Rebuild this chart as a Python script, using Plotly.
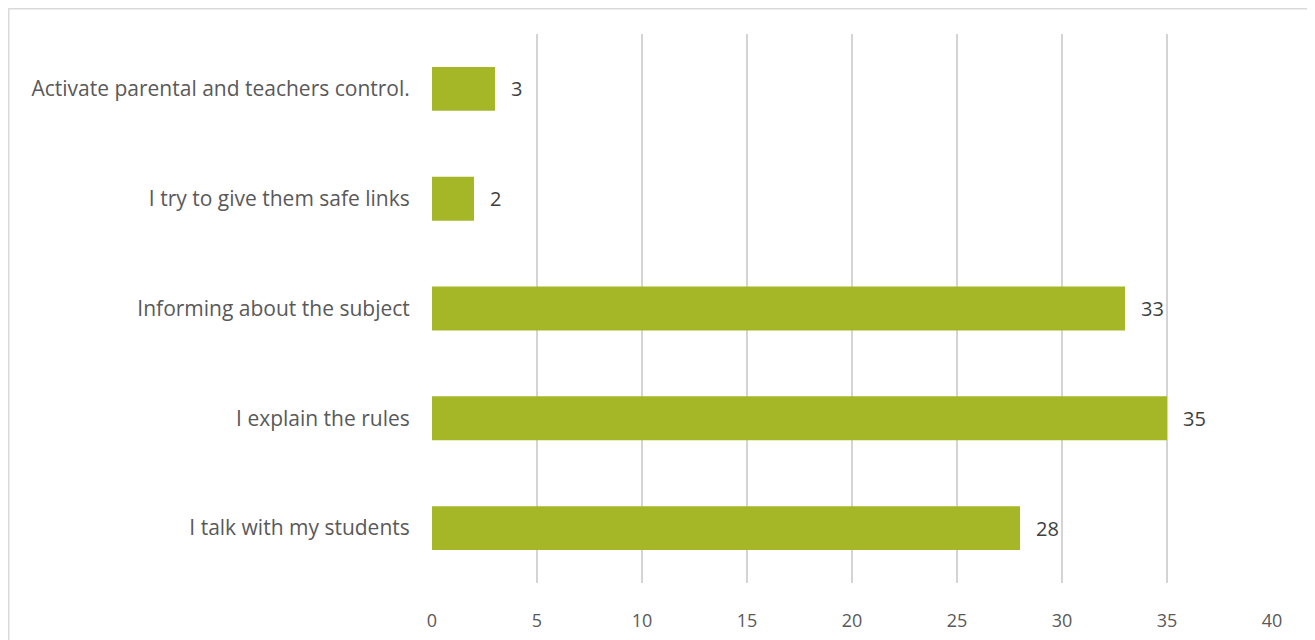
import plotly.graph_objects as go

categories = [
    "Activate parental and teachers control.",
    "I try to give them safe links",
    "Informing about the subject",
    "I explain the rules",
    "I talk with my students",
]
values = [3, 2, 33, 35, 28]
tick_vals = [0, 5, 10, 15, 20, 25, 30, 35, 40]

# page has an 8px body margin; figure coordinates are offset accordingly
W, H = 1315, 640
L, R, T, B = 424, 51, 26, 65
pw, ph = W - L - R, H - T - B

def px_x(p):
    return (p - L) / pw

def px_y(p):
    return (H - B - p) / ph

fig = go.Figure(
    go.Bar(
        y=categories,
        x=values,
        orientation="h",
        marker=dict(color="#A5B726", line=dict(width=0)),
        width=0.4,
        hoverinfo="x+y",
    )
)

for c, v in zip(categories, values):
    fig.add_annotation(
        x=v,
        y=c,
        text=str(v),
        showarrow=False,
        xanchor="left",
        xshift=14,
        font=dict(color="#404040", size=20),
    )

fig.update_layout(
    width=W,
    height=H,
    margin=dict(l=L, r=R, t=T, b=B, pad=0),
    paper_bgcolor="white",
    plot_bgcolor="white",
    font=dict(family="Open Sans, Lato, sans-serif", color="#595959", size=21),
    showlegend=False,
    xaxis=dict(
        range=[0, 40],
        tickvals=tick_vals,
        showgrid=True,
        gridcolor="#D4D4D4",
        gridwidth=1.5,
        zeroline=False,
        showline=False,
        ticks="outside",
        ticklen=0,
        ticklabelstandoff=21,
        tickfont=dict(size=18, color="#595959"),
    ),
    yaxis=dict(
        autorange="reversed",
        showgrid=False,
        zeroline=False,
        showline=False,
        ticks="outside",
        ticklen=0,
        ticklabelstandoff=17,
        tickfont=dict(size=21, color="#595959"),
    ),
    shapes=[
        dict(
            type="rect",
            xref="paper",
            yref="paper",
            x0=px_x(0.75),
            x1=px_x(1302),
            y0=px_y(660),
            y1=px_y(0.75),
            line=dict(color="#D9D9D9", width=1.5),
            fillcolor="rgba(0,0,0,0)",
            layer="below",
        )
    ],
)

fig.write_html("out.html")
